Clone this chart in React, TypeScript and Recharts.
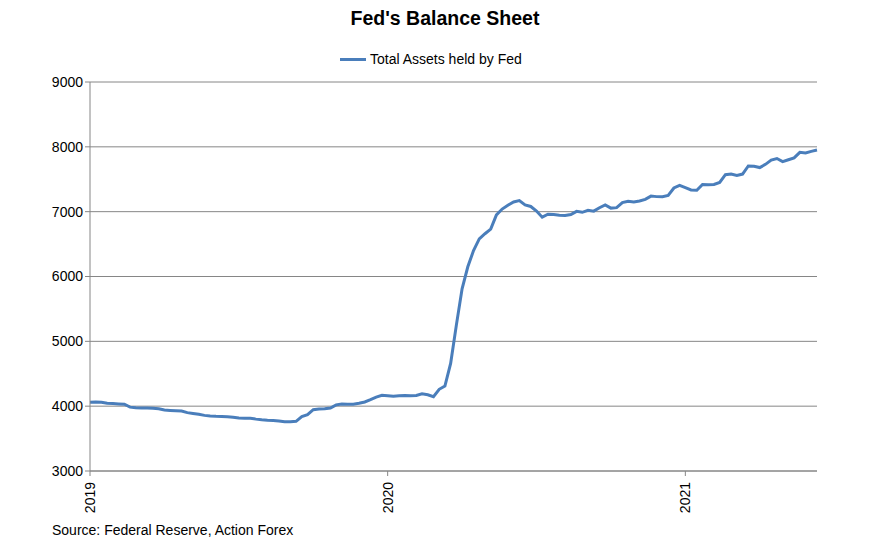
import { CartesianGrid, Line, LineChart, XAxis, YAxis } from 'recharts';

// weekly observations, first week of Jan 2019 onwards (billions USD)
const weeks = Array.from({ length: 128 }, (_, i) => i);

const totalAssets = [
  4060, 4064, 4060, 4045, 4040, 4035, 4030, 3985, 3975, 3972,
  3970, 3968, 3960, 3940, 3935, 3930, 3925, 3900, 3888, 3875,
  3858, 3850, 3845, 3842, 3838, 3830, 3818, 3812, 3812, 3800,
  3790, 3782, 3780, 3770, 3758, 3760, 3766, 3840, 3868, 3945,
  3955, 3960, 3972, 4020, 4034, 4030, 4029, 4045, 4065, 4100,
  4140, 4167, 4160, 4152, 4160, 4165, 4160, 4165, 4190, 4175,
  4147, 4260, 4310, 4660, 5250, 5810, 6150, 6400, 6580, 6660,
  6730, 6950, 7040, 7100, 7150, 7170, 7103, 7080, 7010, 6915,
  6960, 6955, 6945, 6940, 6955, 7005, 6990, 7020, 7008, 7060,
  7105, 7055, 7062, 7140, 7160, 7150, 7165, 7190, 7240, 7232,
  7231, 7250, 7365, 7405, 7370, 7335, 7330, 7420, 7415, 7420,
  7450, 7570, 7580, 7560, 7580, 7705, 7700, 7680, 7730, 7795,
  7820, 7771, 7800, 7830, 7915, 7905, 7930, 7950,
];

const yearTicks = [0, 52, 104];
const yearLabels = ['2019', '2020', '2021'];
const valueTicks = [3000, 4000, 5000, 6000, 7000, 8000, 9000];

const data = weeks.map((w, i) => ({ week: w, assets: totalAssets[i] }));

const FONT = '"Liberation Sans", Arial, sans-serif';
const LINE_COLOR = '#4a7ebb';

const YearTick = ({ x, y, payload }: any) => {
  const idx = yearTicks.indexOf(payload.value);
  return (
    <text
      x={0}
      y={0}
      transform={`translate(${x + 5},${y + 4}) rotate(-90)`}
      textAnchor="end"
      fontSize={14}
      fontFamily={FONT}
      fill="#000"
    >
      {yearLabels[idx]}
    </text>
  );
};

export default function App() {
  return (
    <div
      style={{
        position: 'absolute',
        left: 0,
        top: 0,
        width: 890,
        height: 551,
        background: '#fff',
        fontFamily: FONT,
      }}
    >
      <div
        style={{
          position: 'absolute',
          top: 7,
          width: 890,
          textAlign: 'center',
          fontWeight: 'bold',
          fontSize: 19.5,
        }}
      >
        Fed's Balance Sheet
      </div>
      <div
        style={{
          position: 'absolute',
          top: 51,
          left: 340,
          display: 'flex',
          alignItems: 'center',
          fontSize: 14,
        }}
      >
        <span
          style={{
            display: 'inline-block',
            width: 26,
            height: 3,
            background: LINE_COLOR,
            marginRight: 4,
          }}
        />
        Total Assets held by Fed
      </div>
      <LineChart
        width={890}
        height={551}
        data={data}
        margin={{ top: 82, right: 73, bottom: 35, left: 28 }}
      >
        <CartesianGrid vertical={false} stroke="#868686" />
        <XAxis
          dataKey="week"
          type="number"
          domain={[0, 127]}
          ticks={yearTicks}
          interval={0}
          height={45}
          stroke="#868686"
          tickSize={5}
          tick={<YearTick />}
        />
        <YAxis
          domain={[3000, 9000]}
          ticks={valueTicks}
          interval={0}
          width={62}
          stroke="#868686"
          tickSize={5}
          tick={{ fill: '#000', fontSize: 14, fontFamily: FONT }}
        />
        <Line
          dataKey="assets"
          type="linear"
          stroke={LINE_COLOR}
          strokeWidth={3}
          dot={false}
          isAnimationActive={false}
        />
      </LineChart>
      <div style={{ position: 'absolute', top: 522, left: 52, fontSize: 14 }}>
        Source: Federal Reserve, Action Forex
      </div>
    </div>
  );
}
